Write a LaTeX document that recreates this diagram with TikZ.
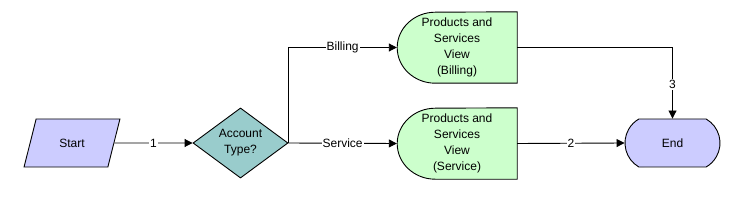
\documentclass[tikz,border=0pt]{standalone}
\usepackage{fontspec}
\setmainfont{Liberation Sans}
\usetikzlibrary{shapes.geometric,shapes.misc,arrows.meta,backgrounds}
\definecolor{lav}{HTML}{CCCCFF}
\definecolor{teal2}{HTML}{99CCCC}
\definecolor{mint}{HTML}{CCFFCC}
\begin{document}
\begin{tikzpicture}[x=1pt,y=-1pt,
  every node/.style={font=\fontsize{12}{16}\selectfont},
  base/.style={draw=black,line width=0.9pt},
  startbox/.style={base,fill=lav,trapezium,trapezium left angle=63.4,trapezium right angle=116.6,trapezium stretches=true,minimum width=96pt,minimum height=48pt,inner sep=0pt},
  decbox/.style={base,fill=teal2,diamond,minimum width=95pt,minimum height=48pt,inner sep=0pt,align=center},
  viewbox/.style={minimum width=120pt,minimum height=71pt,inner sep=0pt,align=center},
  viewshape/.style={base,fill=mint},
  endbox/.style={base,fill=lav,rounded rectangle,rounded rectangle arc length=120,minimum width=95pt,minimum height=48pt,inner sep=0pt},
  conn/.style={line width=0.9pt,-{Triangle[length=8pt,width=8pt]}},
  lbl/.style={fill=white,inner sep=1pt}]
\useasboundingbox (0,0) rectangle (736,203);
\node[startbox] (start) at (72,143) {Start};
\node[decbox] (dec) at (240.5,143) {Account\\Type?};
\node[viewbox] (bill) at (457,47.5) {Products and\\Services\\View\\(Billing)};
\node[viewbox] (serv) at (457,143.5) {Products and\\Services\\View\\(Service)};
\node[endbox] (end) at (672.5,143) {End};
\begin{scope}[on background layer]
\draw[viewshape] (bill.north east) -- (bill.south east) -- ++(-82,0)
  arc[start angle=90, end angle=270, x radius=38, y radius=35.5] -- cycle;
\draw[viewshape] (serv.north east) -- (serv.south east) -- ++(-82,0)
  arc[start angle=90, end angle=270, x radius=38, y radius=35.5] -- cycle;
\end{scope}
\draw[conn] (start.east) -- node[lbl] {1} (dec.west);
\draw[conn] (dec.east) |- node[lbl,pos=0.75] {Billing} (bill.west);
\draw[conn] (dec.east) -- node[lbl] {Service} (serv.west);
\draw[conn] (serv.east) -- node[lbl] {2} (end.west);
\draw[conn] (bill.east) -| node[lbl,pos=0.76] {3} (end.north);
\end{tikzpicture}
\end{document}
